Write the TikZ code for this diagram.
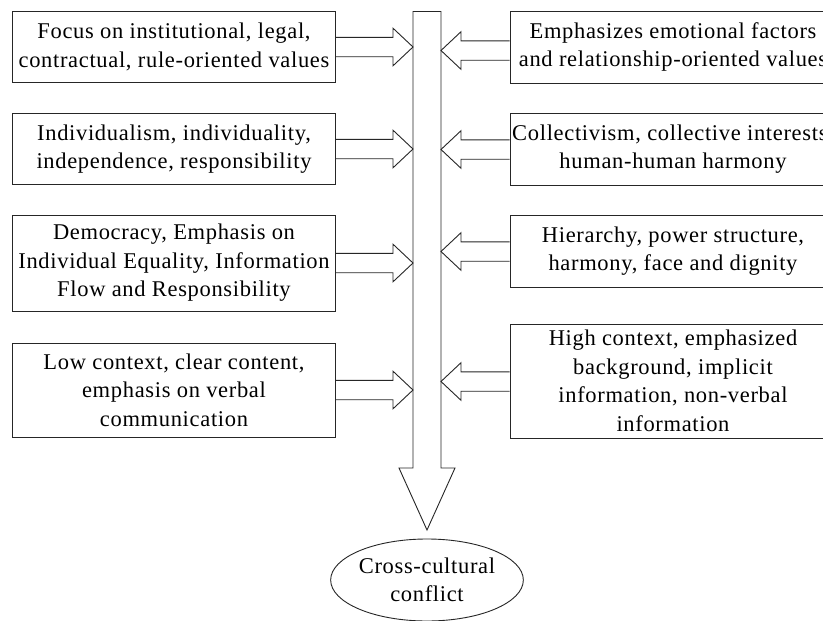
\documentclass[tikz,border=0pt]{standalone}
\usepackage{fontspec}
\setmainfont{Liberation Serif}[LetterSpace=3]
\usetikzlibrary{calc,shapes.geometric}

% Hollow block arrow from #1 towards #2 (same height), shifted down by #3
\newcommand{\sidearrow}[3]{%
  \draw[outline] let \p1=($(#1)+(0,#3)$), \p2=($(#2)+(0,#3)$), \n1={sign(\x2-\x1)} in
    (\x1,\y1+9.7pt) -- (\x2-\n1*20pt,\y1+9.7pt) -- (\x2-\n1*20pt,\y1+18.8pt)
    -- (\x2,\y1) -- (\x2-\n1*20pt,\y1-18.8pt) -- (\x2-\n1*20pt,\y1-9.7pt)
    -- (\x1,\y1-9.7pt);}

\begin{document}
\begin{tikzpicture}[x=1pt,y=-1pt,
  outline/.style={draw=black!85, line width=0.9pt, line join=miter},
  txt/.style={font=\fontsize{22.5}{28.5}\selectfont, align=center, inner sep=0pt},
  box/.style={outline, rectangle, txt},
  lbox/.style={box, minimum width=323pt},
  rbox/.style={box, minimum width=326pt}]
\clip (0,0) rectangle (823,621);
\fill[white] (0,0) rectangle (823,621);

% value boxes, left column
\node[lbox, minimum height=71.5pt] (L1) at (174,47) {Focus on institutional, legal,\\contractual, rule-oriented values};
\node[lbox, minimum height=71.5pt] (L2) at (174,149) {Individualism, individuality,\\independence, responsibility};
\node[lbox, minimum height=96pt] (L3) at (174,263) {Democracy, Emphasis on\\Individual Equality, Information\\Flow and Responsibility};
\node[lbox, minimum height=94pt] (L4) at (174,390) {Low context, clear content,\\emphasis on verbal\\communication};

% value boxes, right column
\node[rbox, minimum height=72pt] (R1) at (673,47) {Emphasizes emotional factors\\and relationship-oriented values};
\node[rbox, minimum height=72pt] (R2) at (673,149) {Collectivism, collective interests,\\human-human harmony};
\node[rbox, minimum height=72pt] (R3) at (673,251) {Hierarchy, power structure,\\harmony, face and dignity};
\node[rbox, minimum height=114pt] (R4) at (673,381) {High context, emphasized\\background, implicit\\information, non-verbal\\information};

% central downward arrow
\coordinate (colL) at (413,11.5);
\coordinate (colR) at (441,11.5);
\coordinate (tip) at (427,530);
\draw[outline] (colL) -- (colR) -- (441,468) -- (455,468) -- (tip)
  -- (399,468) -- (413,468) -- cycle;

% outcome
\node[outline, ellipse, txt, minimum width=168pt, minimum height=82pt] (C) at (427,580)
  {Cross-cultural\\conflict};

% side arrows into the central arrow
\sidearrow{L1.east}{L1.east -| colL}{0}
\sidearrow{L2.east}{L2.east -| colL}{0}
\sidearrow{L3.east}{L3.east -| colL}{0}
\sidearrow{L4.east}{L4.east -| colL}{0}
\sidearrow{R1.west}{R1.west -| colR}{3.5}
\sidearrow{R2.west}{R2.west -| colR}{0.5}
\sidearrow{R3.west}{R3.west -| colR}{0.5}
\sidearrow{R4.west}{R4.west -| colR}{0.5}
\end{tikzpicture}
\end{document}
